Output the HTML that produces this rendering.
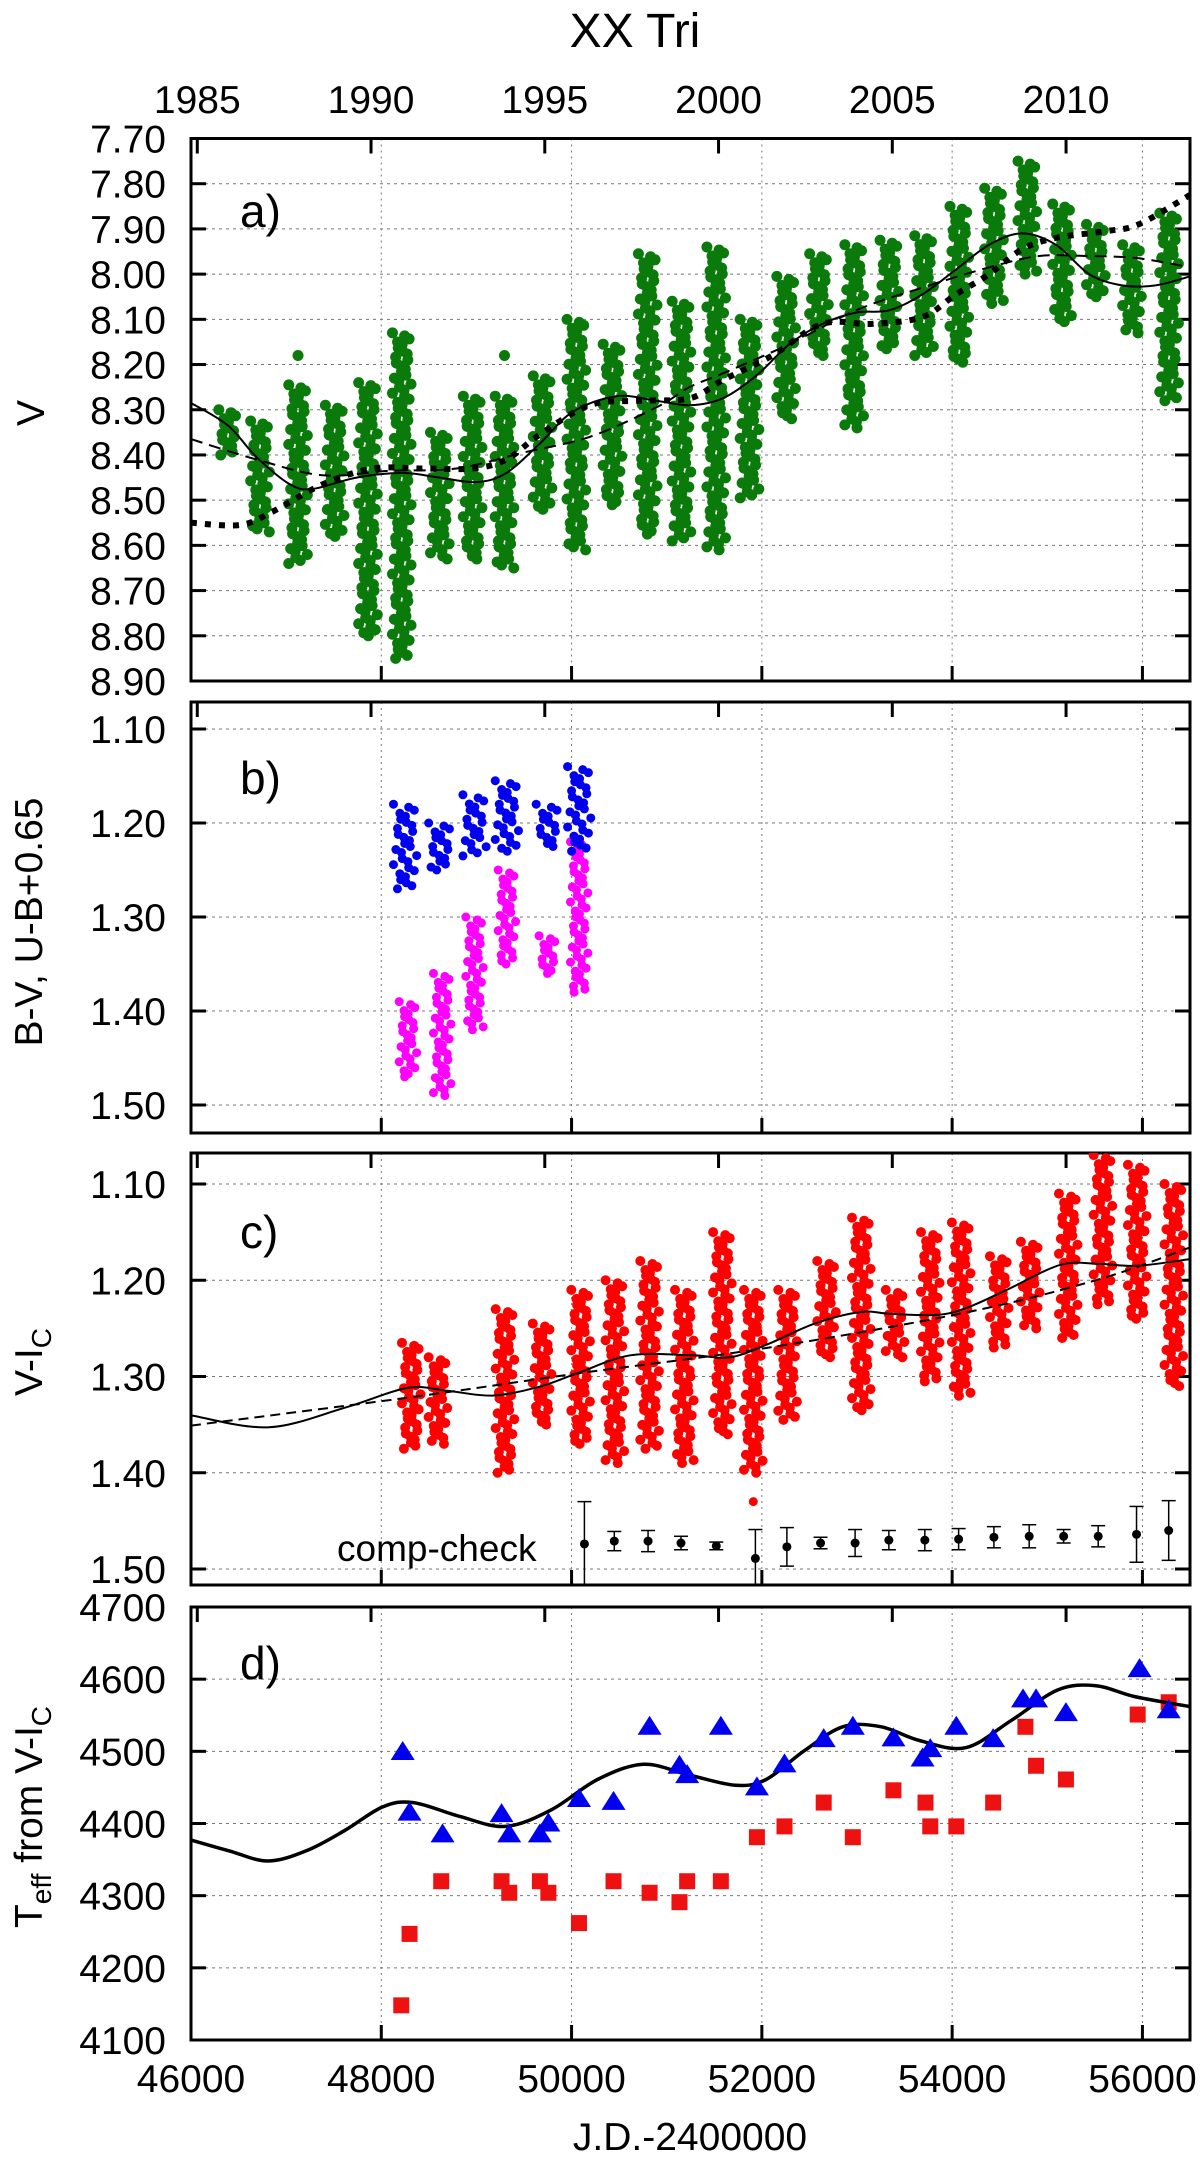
<!DOCTYPE html>
<html><head><meta charset="utf-8"><style>
html,body{margin:0;padding:0;background:#fff}
svg{display:block}
text{font-family:"Liberation Sans",sans-serif;fill:#000}
</style></head><body>
<svg id="chart" width="1200" height="2158" viewBox="0 0 1200 2158" xmlns="http://www.w3.org/2000/svg">
<text x="635" y="47" font-size="48" text-anchor="middle">XX Tri</text>
<text x="690" y="2150" font-size="39" text-anchor="middle">J.D.-2400000</text>
</svg>
<script>
// ---------- data ----------
const vSeasonJD  = [46390,46725,47125,47510,47860,48215,48615,48960,49295,49695,50050,50430,50800,51155,51520,51870,52255,52600,52970,53340,53705,54075,54440,54790,55155,55510,55890,56280];
const vSeasonTop = [8.30,8.325,8.245,8.29,8.24,8.13,8.35,8.27,8.27,8.225,8.10,8.155,7.955,8.06,7.94,8.10,8.005,7.955,7.935,7.925,7.915,7.85,7.81,7.75,7.845,7.89,7.935,7.865];
const vSeasonBot = [8.40,8.57,8.64,8.58,8.80,8.85,8.63,8.63,8.65,8.52,8.61,8.51,8.575,8.59,8.61,8.495,8.32,8.18,8.34,8.165,8.18,8.195,8.065,8.00,8.105,8.05,8.13,8.28];
const vOutJD = [47125,49295];
const vOutV  = [8.18,8.18];
const vSolidJD = [46000,46390,46690,47040,47280,47740,48225,48615,49000,49315,49665,50010,50470,50890,51240,51585,51940,52290,52635,52990,53340,53685,54040,54390,54735,55090,55440,55785,56140,56500];
const vSolidV  = [8.285,8.335,8.405,8.465,8.475,8.45,8.44,8.45,8.46,8.44,8.375,8.305,8.27,8.28,8.29,8.275,8.225,8.155,8.11,8.085,8.08,8.045,7.99,7.935,7.91,7.935,8.00,8.025,8.025,8.005];
const vDashJD = [46000,46690,47385,48090,48790,49490,50190,50890,51240,51585,52290,52990,53685,54390,54915,55440,55960,56500];
const vDashV  = [8.365,8.41,8.445,8.435,8.43,8.395,8.36,8.295,8.25,8.22,8.155,8.08,8.03,7.985,7.96,7.96,7.965,7.985];
const vDotJD = [46000,46515,46860,47385,47910,48435,48960,49315,49665,50190,50715,51240,51585,52110,52635,53160,53685,54040,54390,54735,55090,55615,55960,56500];
const vDotV  = [8.55,8.555,8.525,8.465,8.43,8.43,8.43,8.41,8.355,8.29,8.28,8.275,8.235,8.18,8.11,8.11,8.095,8.045,8.0,7.945,7.92,7.905,7.89,7.825];
const bvJD  = [48250,48620,48980,49320,49750,50080];
const bvTop = [1.18,1.20,1.17,1.155,1.18,1.14];
const bvBot = [1.27,1.25,1.235,1.23,1.225,1.23];
const ubJD  = [48280,48640,48980,49320,49750,50080];
const ubTop = [1.39,1.36,1.30,1.25,1.32,1.22];
const ubBot = [1.47,1.49,1.42,1.35,1.36,1.38];
const viJD  = [48315,48595,49300,49690,50095,50455,50820,51185,51585,51910,52270,52680,53045,53400,53770,54095,54495,54820,55220,55585,55945,56330];
const viTop = [1.265,1.28,1.23,1.245,1.21,1.20,1.18,1.21,1.15,1.21,1.21,1.18,1.135,1.21,1.15,1.14,1.175,1.16,1.11,1.07,1.08,1.10];
const viBot = [1.375,1.37,1.40,1.35,1.37,1.39,1.375,1.39,1.36,1.40,1.345,1.28,1.335,1.28,1.305,1.32,1.27,1.25,1.26,1.225,1.24,1.31];
const viSolidJD = [46014,46821,47630,48275,48679,49163,49648,50052,50617,51263,51667,52071,52555,53040,53363,53848,54170,54574,55139,55544,55948,56500];
const viSolidV  = [1.3406,1.3528,1.332,1.3118,1.3146,1.3198,1.311,1.297,1.278,1.278,1.28,1.266,1.245,1.233,1.235,1.236,1.228,1.21,1.184,1.183,1.185,1.178];
const viDashJD = [46000,48275,50052,52071,54170,55544,56500];
const viDashV  = [1.351,1.322,1.297,1.27,1.233,1.199,1.166];
const ccJD  = [50135,50449,50804,51150,51521,51932,52263,52617,52980,53335,53713,54068,54439,54810,55172,55535,55938,56276];
const ccVal = [1.474,1.471,1.471,1.473,1.476,1.489,1.477,1.473,1.473,1.470,1.470,1.469,1.467,1.466,1.466,1.466,1.464,1.460];
const ccErr = [0.044,0.010,0.011,0.007,0.004,0.03,0.02,0.006,0.014,0.010,0.011,0.011,0.011,0.012,0.007,0.011,0.029,0.031];
const tBlueJD = [48225,48297,48644,49264,49345,49667,49756,50078,50441,50820,51134,51215,51569,51948,52238,52650,52956,53383,53689,53770,54044,54431,54745,54882,55196,55970,56276];
const tBlue   = [4499,4415,4385,4413,4385,4385,4400,4434,4430,4534,4480,4467,4534,4450,4482,4517,4534,4518,4490,4503,4534,4517,4572,4572,4553,4614,4557];
const tRedJD = [48210,48297,48630,49264,49345,49667,49756,50078,50441,50820,51134,51215,51569,51948,52238,52650,52956,53383,53720,53770,54044,54431,54770,54882,55196,55950,56276];
const tRed   = [4148,4247,4320,4320,4304,4320,4304,4262,4320,4304,4291,4320,4320,4381,4396,4429,4381,4446,4429,4396,4396,4429,4534,4480,4461,4551,4568];
const tSolidJD = [46000,46403,46806,47209,47612,48015,48337,48821,49305,49788,50272,50755,51239,51723,52045,52448,52851,53254,53657,54141,54624,55108,55511,55914,56500];
const tSolid   = [4377,4362,4348,4362,4390,4423,4429,4410,4396,4419,4461,4482,4467,4453,4461,4501,4534,4534,4515,4505,4543,4585,4591,4576,4562];
const yearTicks = [1985,1990,1995,2000,2005,2010];
const jdTicks = [46000,48000,50000,52000,54000,56000];
const vTicks = [7.70,7.80,7.90,8.00,8.10,8.20,8.30,8.40,8.50,8.60,8.70,8.80,8.90];
const bTicks = [1.10,1.20,1.30,1.40,1.50];
const cTicks = [1.10,1.20,1.30,1.40,1.50];
const dTicks = [4100,4200,4300,4400,4500,4600,4700];

// ---------- drawing ----------
const NS='http://www.w3.org/2000/svg';
const svg=document.getElementById('chart');
const L=191,R=1190;
const X=jd=>L+(jd-46000)*(R-L)/10500;
const yearX=y=>X(46066+(y-1985)*365.25);
function mk(tag,attrs,parent){const e=document.createElementNS(NS,tag);for(const k in attrs)e.setAttribute(k,attrs[k]);(parent||svg).appendChild(e);return e;}
function lin(v0,p0,v1,p1){return v=>p0+(v-v0)*(p1-p0)/(v1-v0);}
const panels={
 a:{top:138.5,bot:681,Y:lin(7.70,138.5,8.90,681),ticks:vTicks,fmt:v=>v.toFixed(2)},
 b:{top:702,bot:1133,Y:lin(1.10,729,1.50,1105),ticks:bTicks,fmt:v=>v.toFixed(2)},
 c:{top:1153,bot:1585,Y:lin(1.10,1184,1.50,1569),ticks:cTicks,fmt:v=>v.toFixed(2)},
 d:{top:1607,bot:2040,Y:lin(4100,2040,4700,1607),ticks:dTicks,fmt:v=>String(v)}
};
function smooth(xs,ys){let p=xs.map((x,i)=>[x,ys[i]]);let d='M'+p[0][0].toFixed(1)+','+p[0][1].toFixed(1);
 for(let i=0;i<p.length-1;i++){const p0=p[i-1]||p[i],p1=p[i],p2=p[i+1],p3=p[i+2]||p2;
  const c1=[p1[0]+(p2[0]-p0[0])/6,p1[1]+(p2[1]-p0[1])/6],c2=[p2[0]-(p3[0]-p1[0])/6,p2[1]-(p3[1]-p1[1])/6];
  d+=' C'+c1[0].toFixed(1)+','+c1[1].toFixed(1)+' '+c2[0].toFixed(1)+','+c2[1].toFixed(1)+' '+p2[0].toFixed(1)+','+p2[1].toFixed(1);}
 return d;}
function drawFrame(key,name){
 const p=panels[key];
 const g=mk('g',{});
 
 
 p.ticks.forEach(v=>{const y=p.Y(v);
  const gl=mk('line',{x1:L,x2:R,y1:y,y2:y,stroke:'#777','stroke-width':1,'stroke-dasharray':'3,4'},g);
  
  mk('line',{x1:L,x2:L+15,y1:y,y2:y,stroke:'#000','stroke-width':3},g);
  mk('line',{x1:R-15,x2:R,y1:y,y2:y,stroke:'#000','stroke-width':3},g);
  const t=mk('text',{x:166,y:y+14,'font-size':39,'text-anchor':'end'},g);t.textContent=p.fmt(v);
  });
 jdTicks.slice(1).forEach(j=>{const x=X(j);
  const gl=mk('line',{x1:x,x2:x,y1:p.top,y2:p.bot,stroke:'#777','stroke-width':1,'stroke-dasharray':'2,4'},g);
  
  mk('line',{x1:x,x2:x,y1:p.bot-15,y2:p.bot,stroke:'#000','stroke-width':3},g);});
 yearTicks.forEach(yr=>{const x=yearX(yr);mk('line',{x1:x,x2:x,y1:p.top,y2:p.top+15,stroke:'#000','stroke-width':3},g);});
 const fr=mk('rect',{x:L,y:p.top,width:R-L,height:p.bot-p.top,fill:'none',stroke:'#000','stroke-width':3});
 
}
function clip(key){const p=panels[key];const id='clip'+key;const cp=mk('clipPath',{id:id});mk('rect',{x:L,y:p.top,width:R-L,height:p.bot-p.top},cp);
 const g=mk('g',{'clip-path':'url(#'+id+')'});return g;}
function column(g,jd,top,bot,Y,color,r,name,w){
 const gg=mk('g',{fill:color},g);
 
 const y1=Y(top),y2=Y(bot);const n=Math.max(2,Math.round((y2-y1)/3));
 for(let i=0;i<=n;i++){const y=y1+(y2-y1)*i/n;const off=(((i*7)%5)-2)*w+(((i*3)%4)-1.5)*w*0.6;
  mk('circle',{cx:X(jd)+off,cy:y,r:r},gg);}
}
function label(text,x,y,name){const t=mk('text',{x:x,y:y,'font-size':46});t.textContent=text;}

yearTicks.forEach(yr=>{const t=mk('text',{x:yearX(yr),y:113,'font-size':39,'text-anchor':'middle'});t.textContent=yr;
 });
jdTicks.forEach(j=>{const t=mk('text',{x:X(j),y:2092,'font-size':39,'text-anchor':'middle'});t.textContent=j;
 });

drawFrame('a','panel-a');
{const p=panels.a;const g=clip('a');
 vSeasonJD.forEach((j,i)=>column(g,j,vSeasonTop[i],vSeasonBot[i],p.Y,'#0a7a0a',5.5,'v-season',3.2));
 vOutJD.forEach((j,i)=>{const c=mk('circle',{cx:X(j),cy:p.Y(vOutV[i]),r:5.5,fill:'#0a7a0a'},g);});
 let l=mk('path',{d:smooth(vSolidJD.map(X),vSolidV.map(p.Y)),fill:'none',stroke:'#000','stroke-width':2},g);
 l=mk('path',{d:smooth(vDashJD.map(X),vDashV.map(p.Y)),fill:'none',stroke:'#000','stroke-width':2,'stroke-dasharray':'12,7'},g);
 l=mk('path',{d:smooth(vDotJD.map(X),vDotV.map(p.Y)),fill:'none',stroke:'#000','stroke-width':6,'stroke-dasharray':'6,8'},g);
 label('a)',240,227,'panel-a-label');}
drawFrame('b','panel-b');
{const p=panels.b;const g=clip('b');
 ubJD.forEach((j,i)=>column(g,j,ubTop[i],ubBot[i],p.Y,'#ff00ff',4.5,'ub-season',3));
 bvJD.forEach((j,i)=>column(g,j,bvTop[i],bvBot[i],p.Y,'#0000ee',4.5,'bv-season',4));
 label('b)',240,794,'panel-b-label');}
drawFrame('c','panel-c');
{const p=panels.c;const g=clip('c');
 viJD.forEach((j,i)=>column(g,j,viTop[i],viBot[i],p.Y,'#ff0000',5,'vi-season',3.2));
 const o=mk('circle',{cx:X(51910),cy:p.Y(1.43),r:4.5,fill:'#ff0000'},g);
 let l=mk('path',{d:smooth(viSolidJD.map(X),viSolidV.map(p.Y)),fill:'none',stroke:'#000','stroke-width':2},g);
 l=mk('path',{d:smooth(viDashJD.map(X),viDashV.map(p.Y)),fill:'none',stroke:'#000','stroke-width':2,'stroke-dasharray':'10,6'},g);
 ccJD.forEach((j,i)=>{const x=X(j),y=p.Y(ccVal[i]),y1=p.Y(ccVal[i]-ccErr[i]),y2=p.Y(ccVal[i]+ccErr[i]);
  const e=mk('g',{stroke:'#000','stroke-width':1.5},g);
  mk('line',{x1:x,x2:x,y1:y1,y2:y2},e);mk('line',{x1:x-7,x2:x+7,y1:y1,y2:y1},e);mk('line',{x1:x-7,x2:x+7,y1:y2,y2:y2},e);
  mk('circle',{cx:x,cy:y,r:4.5,fill:'#000',stroke:'none'},e);});
 label('c)',240,1248,'panel-c-label');
 const t=mk('text',{x:337,y:1561,'font-size':37});t.textContent='comp-check';}
drawFrame('d','panel-d');
{const p=panels.d;const g=clip('d');
 tRedJD.forEach((j,i)=>{const r=mk('rect',{x:X(j)-8,y:p.Y(tRed[i])-8,width:16,height:16,fill:'#ee1111'},g);});
 let l=mk('path',{d:smooth(tSolidJD.map(X),tSolid.map(p.Y)),fill:'none',stroke:'#000','stroke-width':3.5},g);
 tBlueJD.forEach((j,i)=>{const x=X(j),y=p.Y(tBlue[i]);const t=mk('polygon',{points:(x-12)+','+(y+8)+' '+(x+12)+','+(y+8)+' '+x+','+(y-11),fill:'#0000ee'},g);});
 label('d)',240,1679,'panel-d-label');}

// y-axis titles: parts [text, isSub]
function ytitle(cx,cy,parts,name){const t=mk('text',{transform:'translate('+cx+','+cy+') rotate(-90)','font-size':39,'text-anchor':'middle'});
 
 let inSub=false;
 parts.forEach(([s,sub])=>{const a={};
  if(sub){a['font-size']=28;if(!inSub)a.dy=9;inSub=true;}
  else{if(inSub)a.dy=-9;inSub=false;}
  const ts=mk('tspan',a,t);ts.textContent=s;});}
ytitle(44,413,[['V',0]],'v-axis-title');
ytitle(42,922,[['B-V, U-B+0.65',0]],'bv-axis-title');
ytitle(42,1362,[['V-I',0],['C',1]],'vi-axis-title');
ytitle(42,1817,[['T',0],['eff',1],[' from V-I',0],['C',1]],'teff-axis-title');
</script>
</body></html>
